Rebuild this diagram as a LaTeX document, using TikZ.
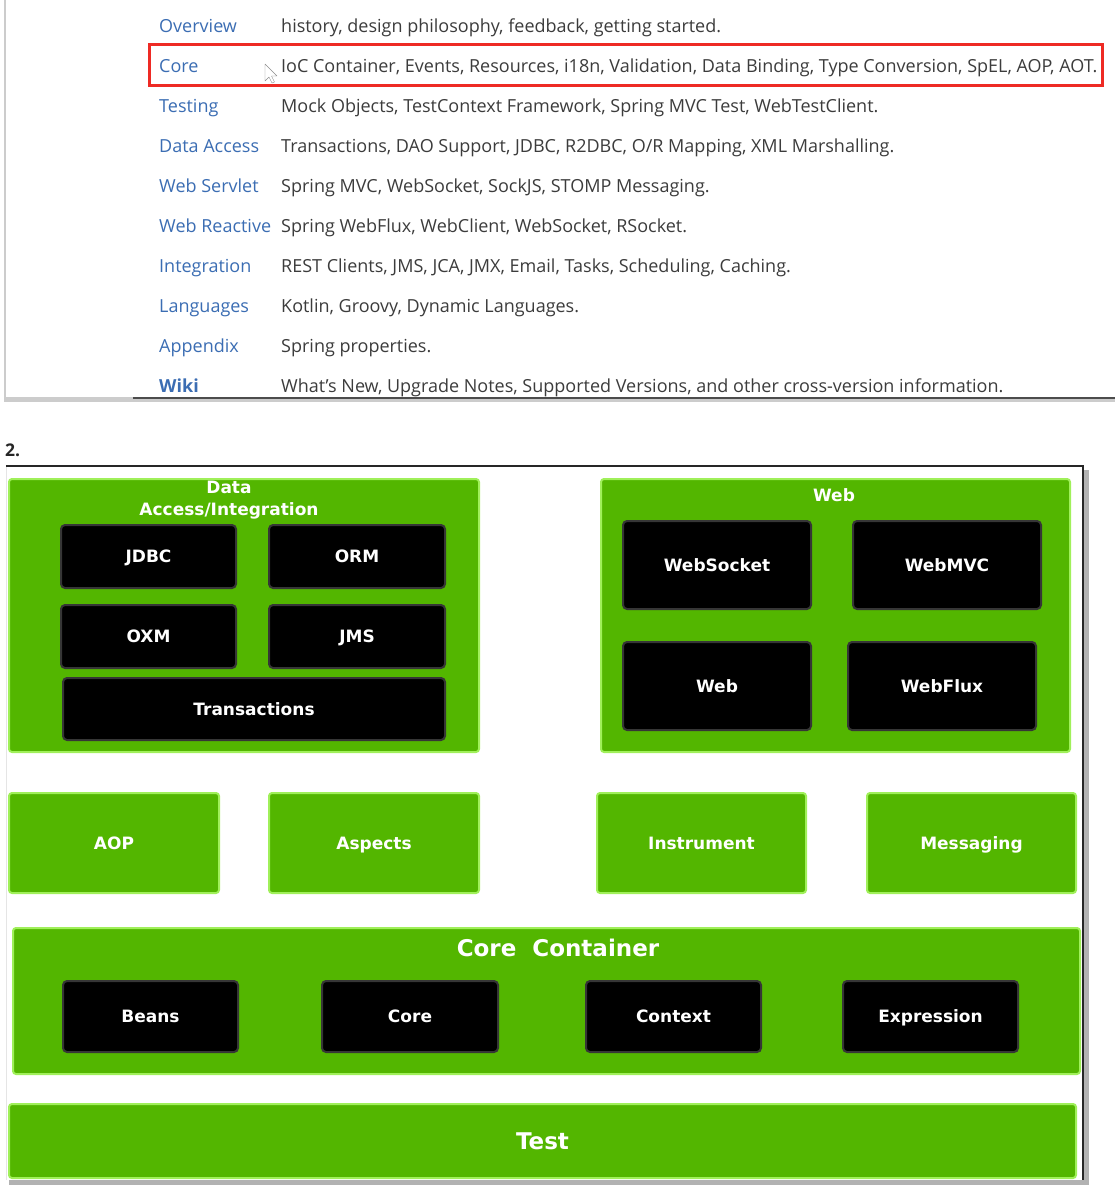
\documentclass[tikz,border=0pt]{standalone}
\usepackage{fontspec}
\usetikzlibrary{fit}
\setmainfont{Open Sans}
\newfontfamily\archfont{DejaVu Sans}
\definecolor{linkblue}{HTML}{3B6DB3}
\definecolor{doctext}{HTML}{3C3C3C}
\definecolor{markred}{HTML}{EE2A24}
\definecolor{springgreen}{HTML}{53B600}
\definecolor{edgegreen}{HTML}{A0F05A}
\definecolor{boxedge}{HTML}{363636}
\begin{document}
\begin{tikzpicture}[x=1pt, y=-1pt,
  linkcell/.style={anchor=base west, inner sep=0pt, text=linkblue, font=\fontsize{18}{21}\selectfont},
  desccell/.style={anchor=base west, inner sep=0pt, text=doctext, font=\fontsize{18}{21}\selectfont},
  archbox/.style={anchor=north west, line width=2pt, inner sep=0pt, text=white, text height=12pt, text depth=0pt, font=\archfont\bfseries\fontsize{17}{22}\selectfont},
  greenbox/.style={archbox, draw=edgegreen, fill=springgreen, rounded corners=3pt},
  blackbox/.style={archbox, draw=boxedge, fill=black, rounded corners=4pt},
  titletext/.style={inner sep=0pt, text=white, align=center, font=\archfont\bfseries\fontsize{17}{22}\selectfont},
  bigtext/.style={inner sep=0pt, text=white, text height=17pt, text depth=0pt, font=\archfont\bfseries\fontsize{23}{28}\selectfont}]
  \useasboundingbox (0,0) rectangle (1115,1186);

  % screenshot of the docs table
  \fill[black!20] (4,0) rectangle (1115,402);
  \node[fill=white, inner sep=0pt, fit={(6,0)(1115,397)}] (docpanel) {};
  \draw[black!70, line width=1.5pt] (133,398) -- (1115,398);
  \foreach \lnk/\dsc [count=\i from 0] in {
    Overview/{history, design philosophy, feedback, getting started.},
    Core/{IoC Container, Events, Resources, i18n, Validation, Data Binding, Type Conversion, SpEL, AOP, AOT.},
    Testing/{Mock Objects, TestContext Framework, Spring MVC Test, WebTestClient.},
    {Data Access}/{Transactions, DAO Support, JDBC, R2DBC, O/R Mapping, XML Marshalling.},
    {Web Servlet}/{Spring MVC, WebSocket, SockJS, STOMP Messaging.},
    {Web Reactive}/{Spring WebFlux, WebClient, WebSocket, RSocket.},
    Integration/{REST Clients, JMS, JCA, JMX, Email, Tasks, Scheduling, Caching.},
    Languages/{Kotlin, Groovy, Dynamic Languages.},
    Appendix/{Spring properties.},
    {\textbf{Wiki}}/{What’s New, Upgrade Notes, Supported Versions, and other cross-version information.}}
  {
    \node[linkcell] (lnk\i) at (159,32+40*\i) {\lnk};
    \node[desccell] (dsc\i) at (281,32+40*\i) {\dsc};
  }
  \node[draw=markred, line width=3pt, inner sep=0pt, fit={(149,44)(1102,85)}] (corerow) {};
  % mouse pointer
  \draw[black!45, fill=white, line join=round] (265,64) -- ++(0,17) -- ++(4,-4) -- ++(3,6) -- ++(2.5,-1) -- ++(-3,-6) -- ++(5.5,0) -- cycle;

  \node[anchor=base west, inner sep=0pt, text=black!85, font=\bfseries\fontsize{17.5}{20}\selectfont] (num) at (5,456) {2.};

  % spring framework overview
  \fill[black!30] (9,470) rectangle (1089,1185);
  \node[fill=white, inner sep=0pt, fit={(6,466)(1083,1180)}] (frame) {};
  \draw[black!10] (frame.north west) -- (frame.south west);
  \draw[black!85, line width=2.5pt] (frame.north west) -- (frame.north east) -- (frame.south east);

  \node[greenbox, minimum width=470pt, minimum height=273pt] (dai) at (8,478) {};
  \node[titletext] (daititle) at (229,500) {Data\\Access/Integration};
  \node[blackbox, minimum width=175pt, minimum height=63pt] (jdbc) at (60,524) {JDBC};
  \node[blackbox, minimum width=176pt, minimum height=63pt] (orm) at (268,524) {ORM};
  \node[blackbox, minimum width=175pt, minimum height=63pt] (oxm) at (60,604) {OXM};
  \node[blackbox, minimum width=176pt, minimum height=63pt] (jms) at (268,604) {JMS};
  \node[blackbox, minimum width=382pt, minimum height=62pt] (tx) at (62,677) {Transactions};

  \node[greenbox, minimum width=469pt, minimum height=273pt] (web) at (600,478) {};
  \node[titletext] (webtitle) at (834,495) {Web};
  \node[blackbox, minimum width=188pt, minimum height=88pt] (websocket) at (622,520) {WebSocket};
  \node[blackbox, minimum width=188pt, minimum height=88pt] (webmvc) at (852,520) {WebMVC};
  \node[blackbox, minimum width=188pt, minimum height=88pt] (webmod) at (622,641) {Web};
  \node[blackbox, minimum width=188pt, minimum height=88pt] (webflux) at (847,641) {WebFlux};

  \node[greenbox, minimum width=210pt, minimum height=100pt] (aop) at (8,792) {AOP};
  \node[greenbox, minimum width=210pt, minimum height=100pt] (aspects) at (268,792) {Aspects};
  \node[greenbox, minimum width=209pt, minimum height=100pt] (instrument) at (596,792) {Instrument};
  \node[greenbox, minimum width=209pt, minimum height=100pt] (messaging) at (866,792) {Messaging};

  \node[greenbox, minimum width=1067pt, minimum height=146pt] (corecont) at (12,927) {};
  \node[bigtext] (coretitle) at (558,948) {Core\ \ Container};
  \node[blackbox, minimum width=175pt, minimum height=71pt] (beans) at (62,980) {Beans};
  \node[blackbox, minimum width=176pt, minimum height=71pt] (core) at (321,980) {Core};
  \node[blackbox, minimum width=175pt, minimum height=71pt] (context) at (585,980) {Context};
  \node[blackbox, minimum width=175pt, minimum height=71pt] (expression) at (842,980) {Expression};

  \node[greenbox, minimum width=1067pt, minimum height=74pt] (test) at (8,1103) {};
  \node[bigtext] (testtitle) at (test.center) {Test};
\end{tikzpicture}
\end{document}
